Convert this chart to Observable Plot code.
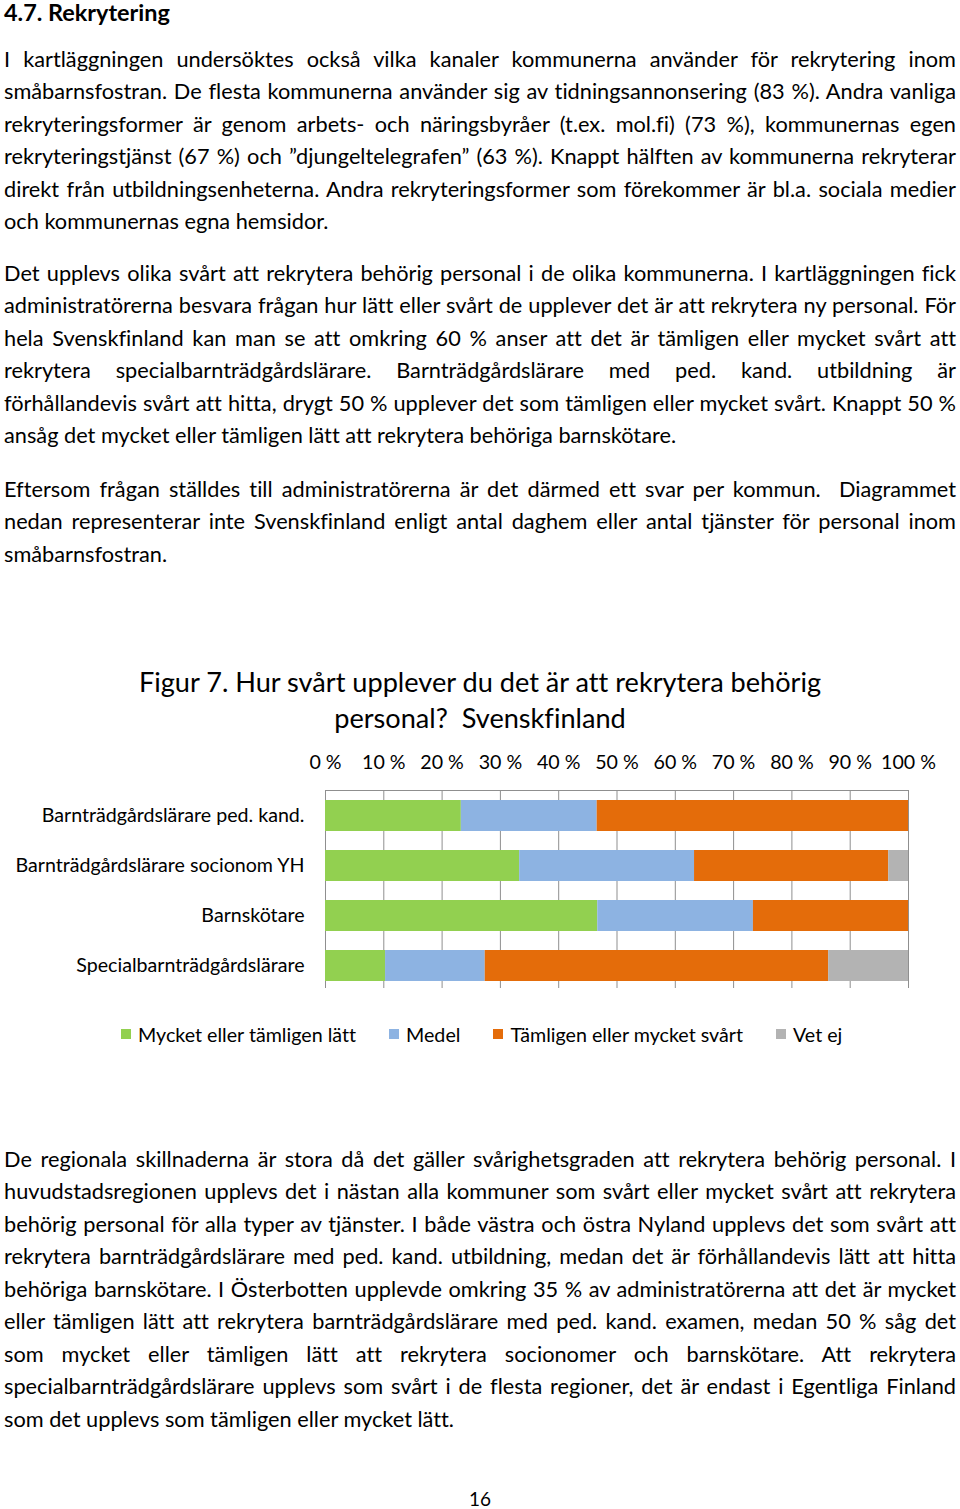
<!DOCTYPE html>
<html><head><meta charset="utf-8">
<script src="https://cdn.jsdelivr.net/npm/d3@7"></script>
<script src="https://cdn.jsdelivr.net/npm/@observablehq/plot@0.6"></script>
<style>
html,body{margin:0;padding:0;background:#fff;}
body{position:relative;width:960px;height:1509px;overflow:hidden;font-family:Lato,"Open Sans",sans-serif;color:#000;font-variant-ligatures:none;font-feature-settings:"liga" 0,"clig" 0;}
svg text{font-variant-ligatures:none;}
.line{position:absolute;left:4px;white-space:pre;}
.ctr{position:absolute;left:0;width:960px;text-align:center;white-space:pre;}
#legend{position:absolute;display:flex;align-items:center;gap:33px;white-space:nowrap;}
#legend .it{display:flex;align-items:center;}
#legend .sw{width:10px;height:10px;margin-right:7px;}
#chart{position:absolute;left:0;top:740px;}
</style></head><body>
<div id="chart"></div>
<script>
// ---------- chart data ----------
const categories = [
  "Barnträdgårdslärare ped. kand.",
  "Barnträdgårdslärare socionom YH",
  "Barnskötare",
  "Specialbarnträdgårdslärare"
];
const seriesNames = ["Mycket eller tämligen lätt", "Medel", "Tämligen eller mycket svårt", "Vet ej"];
const easyValues    = [23.3, 33.3, 46.7, 10.3];
const mediumValues  = [23.3, 30.0, 26.7, 17.1];
const hardValues    = [53.4, 33.3, 26.6, 58.9];
const unknownValues = [0.0, 3.4, 0.0, 13.7];
const seriesColors = ["#92d050", "#8db3e2", "#e46c0a", "#b3b3b3"];
const xTicks = [0, 10, 20, 30, 40, 50, 60, 70, 80, 90, 100];
const chartTitle = ["Figur 7. Hur svårt upplever du det är att rekrytera behörig", "personal?  Svenskfinland"];

// ---------- page text ----------
const heading = "4.7. Rekrytering";
const para1 = [
  "I kartläggningen undersöktes också vilka kanaler kommunerna använder för rekrytering inom",
  "småbarnsfostran. De flesta kommunerna använder sig av tidningsannonsering (83 %). Andra vanliga",
  "rekryteringsformer är genom arbets- och näringsbyråer (t.ex. mol.fi) (73 %), kommunernas egen",
  "rekryteringstjänst (67 %) och ”djungeltelegrafen” (63 %). Knappt hälften av kommunerna rekryterar",
  "direkt från utbildningsenheterna. Andra rekryteringsformer som förekommer är bl.a. sociala medier",
  "och kommunernas egna hemsidor."
];
const para2 = [
  "Det upplevs olika svårt att rekrytera behörig personal i de olika kommunerna. I kartläggningen fick",
  "administratörerna besvara frågan hur lätt eller svårt de upplever det är att rekrytera ny personal. För",
  "hela Svenskfinland kan man se att omkring 60 % anser att det är tämligen eller mycket svårt att",
  "rekrytera specialbarnträdgårdslärare. Barnträdgårdslärare med ped. kand. utbildning är",
  "förhållandevis svårt att hitta, drygt 50 % upplever det som tämligen eller mycket svårt. Knappt 50 %",
  "ansåg det mycket eller tämligen lätt att rekrytera behöriga barnskötare."
];
const para3 = [
  "Eftersom frågan ställdes till administratörerna är det därmed ett svar per kommun.  Diagrammet",
  "nedan representerar inte Svenskfinland enligt antal daghem eller antal tjänster för personal inom",
  "småbarnsfostran."
];
const para4 = [
  "De regionala skillnaderna är stora då det gäller svårighetsgraden att rekrytera behörig personal. I",
  "huvudstadsregionen upplevs det i nästan alla kommuner som svårt eller mycket svårt att rekrytera",
  "behörig personal för alla typer av tjänster. I både västra och östra Nyland upplevs det som svårt att",
  "rekrytera barnträdgårdslärare med ped. kand. utbildning, medan det är förhållandevis lätt att hitta",
  "behöriga barnskötare. I Österbotten upplevde omkring 35 % av administratörerna att det är mycket",
  "eller tämligen lätt att rekrytera barnträdgårdslärare med ped. kand. examen, medan 50 % såg det",
  "som mycket eller tämligen lätt att rekrytera socionomer och barnskötare. Att rekrytera",
  "specialbarnträdgårdslärare upplevs som svårt i de flesta regioner, det är endast i Egentliga Finland",
  "som det upplevs som tämligen eller mycket lätt."
];
const pageNumber = "16";

// ---------- helpers ----------
const FONT = "Lato";
const cv = document.createElement("canvas").getContext("2d");
function measure(text, size, weight) { cv.font = `${weight || "normal"} ${size}px ${FONT}`; return cv.measureText(text).width; }
function fit(text, target, weight) { return 100 * target / measure(text, 100, weight); }

const bodySize = 100 * (672 + 325 + 163 + 449) /
  ["ansåg det mycket eller tämligen lätt att rekrytera behöriga barnskötare.", "och kommunernas egna hemsidor.", "småbarnsfostran.", "som det upplevs som tämligen eller mycket lätt."]
    .reduce((s, t) => s + measure(t, 100), 0);
const LH = 32.5;
const TEXTW = 952;

function addLine(text, yc, justify, size, weight) {
  const d = document.createElement("div");
  d.className = "line";
  d.style.top = (yc - LH / 2) + "px";
  d.style.height = LH + "px";
  d.style.lineHeight = LH + "px";
  d.style.fontSize = size + "px";
  if (weight) d.style.fontWeight = weight;
  const s = document.createElement("span");
  s.textContent = text;
  d.appendChild(s);
  document.body.appendChild(d);
  if (justify) {
    const w = s.getBoundingClientRect().width;
    const n = (text.match(/ /g) || []).length;
    if (n) s.style.wordSpacing = ((TEXTW - w) / n) + "px";
  }
}
function addPara(lines, y0) {
  lines.forEach((t, i) => addLine(t, y0 + i * LH, i < lines.length - 1, bodySize));
}

addLine(heading, 12, false, fit(heading, 166, "bold"), "bold");
addPara(para1, 59);
addPara(para2, 273);
addPara(para3, 489);
addPara(para4, 1159);

// chart title
const titleSize = fit(chartTitle[0], 684);
chartTitle.forEach((t, i) => {
  const d = document.createElement("div");
  d.className = "ctr";
  d.style.fontSize = titleSize + "px";
  d.style.lineHeight = "36px";
  d.style.top = (682 + i * 36 - 18) + "px";
  d.textContent = t;
  document.body.appendChild(d);
});

// page number
{
  const d = document.createElement("div");
  d.className = "ctr";
  d.style.fontSize = fit(pageNumber, 22) + "px";
  d.style.lineHeight = "30px";
  d.style.top = (1499 - 15) + "px";
  d.textContent = pageNumber;
  document.body.appendChild(d);
}

// ---------- chart ----------
const axisSize = fit(categories[1], 290);
const seriesValues = [easyValues, mediumValues, hardValues, unknownValues];
const data = categories.flatMap((c, i) => seriesNames.map((s, j) => ({category: c, series: s, value: seriesValues[j][i]})));
const grid = "#8f8f8f";
const plot = Plot.plot({
  width: 960, height: 260,
  marginLeft: 325, marginRight: 52, marginTop: 50, marginBottom: 8,
  style: {fontFamily: FONT, fontSize: axisSize + "px", color: "#000", background: "transparent"},
  x: {domain: [0, 100], axis: null},
  y: {domain: categories, paddingInner: 0.376, paddingOuter: 0.188, axis: null},
  color: {domain: seriesNames, range: seriesColors},
  marks: [
    Plot.gridX(xTicks, {stroke: grid, strokeOpacity: 1, strokeWidth: 1, insetBottom: 4}),
    Plot.frame({anchor: "top", stroke: grid}),
    Plot.barX(data, {x: "value", y: "category", fill: "series", order: seriesNames}),
    Plot.axisX(xTicks, {anchor: "top", label: null, tickSize: 0, tickPadding: 22, tickFormat: d => d + " %", fontSize: axisSize}),
    Plot.axisY({anchor: "left", label: null, tickSize: 0, tickPadding: 21, fontSize: axisSize})
  ]
});
document.getElementById("chart").appendChild(plot);

// legend
{
  const lg = document.createElement("div");
  lg.id = "legend";
  const ls = fit(seriesNames[0], 218);
  lg.style.fontSize = ls + "px";
  lg.style.left = "121px";
  lg.style.top = (1034 - 15) + "px";
  lg.style.height = "30px";
  seriesNames.forEach((n, i) => {
    const it = document.createElement("div");
    it.className = "it";
    const sw = document.createElement("div");
    sw.className = "sw";
    sw.style.background = seriesColors[i];
    const tx = document.createElement("span");
    tx.textContent = n;
    it.appendChild(sw); it.appendChild(tx);
    lg.appendChild(it);
  });
  document.body.appendChild(lg);
}
</script>
</body></html>
